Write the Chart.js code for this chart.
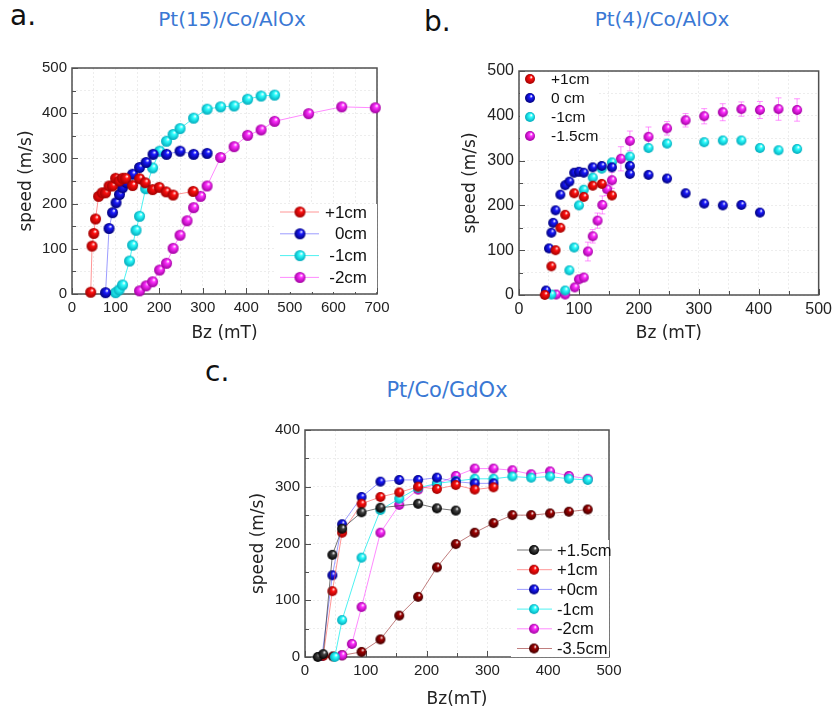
<!DOCTYPE html>
<html>
<head>
<meta charset="utf-8">
<script src="https://cdn.jsdelivr.net/npm/chart.js@4/dist/chart.umd.min.js"></script>
<style>
body{margin:0;width:837px;height:713px;background:#fff;position:relative;overflow:hidden;font-family:'DejaVu Sans',sans-serif}
canvas{position:absolute}
.lab{position:absolute;font-size:28px;line-height:1;color:#111}
.ttl{position:absolute;font-size:20px;line-height:1;color:#3a78d4;transform:translateX(-50%);white-space:nowrap}
</style>
</head>
<body>
<div class="lab" style="left:10px;top:2px">a.</div>
<div class="ttl" style="left:232px;top:9px">Pt(15)/Co/AlOx</div>
<div class="lab" style="left:424px;top:8px">b.</div>
<div class="ttl" style="left:662px;top:9px">Pt(4)/Co/AlOx</div>
<div class="lab" style="left:205px;top:358px">c.</div>
<div class="ttl" style="left:447px;top:380px;font-size:21px">Pt/Co/GdOx</div>

<canvas id="chartA" width="400" height="350" style="left:0;top:0"></canvas>
<canvas id="chartB" width="407" height="350" style="left:430px;top:0"></canvas>
<canvas id="chartC" width="437" height="363" style="left:200px;top:350px"></canvas>

<script>
// ---- panel a : Pt(15)/Co/AlOx ----
const aLabels = ['+1cm', '0cm', '-1cm', '-2cm'];
const aX_p1 = [43,46,50,54,61,69,77,85,93,100,108,116,123,139,155,168,185,200,216,232,278];
const aY_p1 = [4,106,134,166,216,224,224,239,239,256,250,256,256,240,255,246,231,236,226,219,227];
const aX_0 = [77,85,93,101,109,116,124,139,155,170,186,217,248,279,310];
const aY_0 = [3,145,180,202,220,235,246,265,280,291,309,309,316,309,311];
const aX_m1 = [100,108,116,132,139,147,155,169,185,201,217,232,248,279,310,341,372,403,434,465];
const aY_m1 = [3,9,20,73,108,141,172,233,279,316,338,353,366,389,409,414,416,431,438,440];
const aX_m2 = [155,170,185,201,217,232,248,264,279,295,310,341,372,403,434,465,543,619,696];
const aY_m2 = [7,18,27,53,68,101,130,162,191,216,239,302,326,351,363,382,399,414,412];

// ---- panel b : Pt(4)/Co/AlOx ----
const bLabels = ['+1cm', '0 cm', '-1cm', '-1.5cm'];
const bX_p1 = [43,54,61,69,77,92,108,123,138,155];
const bY_p1 = [0,64,100,150,179,227,219,244,248,222];
const bX_0 = [45,50,54,57,61,69,77,84,92,100,108,123,138,155,185,185,216,247,278,309,340,371,402];
const bY_0 = [10,104,139,161,189,224,245,253,273,275,273,285,288,285,288,270,268,260,227,204,200,201,184];
const bX_m1 = [54,77,84,92,100,108,123,138,155,185,216,247,309,340,371,402,433,464];
const bY_m1 = [1,10,55,106,200,235,262,282,296,309,328,338,341,345,345,328,323,326];
const bX_m15 = [62,77,93,100,108,115,123,131,139,147,155,170,185,216,247,278,309,340,371,402,433,464];
const bY_m15 = [1,1,17,35,39,97,131,166,201,236,256,304,344,353,372,390,399,408,415,413,415,413];
const bErr_m15 = [0,0,0,0,0,21,15,17,20,14,18,27,22,22,15,15,17,19,16,19,25,25];

// ---- panel c : Pt/Co/GdOx ----
const cLabels = ['+1.5cm', '+1cm', '+0cm', '-1cm', '-2cm', '-3.5cm'];
const cX_p15 = [21,30,45,61,93,124,186,217,248];
const cY_p15 = [0,5,180,226,255,263,270,262,258];
const cX_p1 = [30,45,61,93,124,155,186,217,248,279,310];
const cY_p1 = [2,116,219,270,282,290,300,296,303,295,299];
const cX_0 = [28,45,61,93,124,155,186,217,248,279,310];
const cY_0 = [2,144,234,282,309,312,312,316,309,306,306];
const cX_m1 = [49,61,93,124,155,186,217,248,279,310,341,372,403,434,465];
const cY_m1 = [0,65,175,259,279,298,306,310,314,314,318,316,318,314,312];
const cX_m2 = [61,77,93,124,155,186,217,248,279,310,341,372,403,434,465];
const cY_m2 = [3,23,88,219,268,295,305,319,332,332,329,322,327,319,314];
const cX_m35 = [46,61,93,124,155,186,217,248,279,310,341,372,403,434,465];
const cY_m35 = [1,3,9,31,73,106,158,199,219,236,250,250,253,256,260];

// shaded ball markers
function ball(c1, c2, r) {
  const s = 2 * r + 2;
  const cv = document.createElement('canvas');
  cv.width = cv.height = s;
  const g = cv.getContext('2d');
  const m = s / 2;
  const gr = g.createRadialGradient(m + r * 0.3, m - r * 0.4, r * 0.05, m, m, r);
  gr.addColorStop(0, '#ffffff');
  gr.addColorStop(0.3, c1);
  gr.addColorStop(1, c2);
  g.fillStyle = gr;
  g.beginPath();
  g.arc(m, m, r, 0, Math.PI * 2);
  g.fill();
  return cv;
}

const cols = {
  red: ['#ff1010', '#a00000', 'rgba(255,80,80,0.6)'],
  blue: ['#1a1aff', '#00007a', 'rgba(90,90,255,0.6)'],
  cyan: ['#30ffff', '#00aabb', 'rgba(0,235,235,0.7)'],
  mag: ['#ff30ff', '#a000a0', 'rgba(255,60,255,0.6)'],
  black: ['#444444', '#000000', 'rgba(60,60,60,0.7)'],
  dred: ['#a00000', '#400000', 'rgba(150,40,40,0.6)']
};

function ds(label, xs, ys, col, r, showLine, err) {
  return {
    label: label,
    data: xs.map((x, i) => ({x: x, y: ys[i]})),
    pointStyle: ball(cols[col][0], cols[col][1], r),
    pointRadius: r,
    borderColor: cols[col][2],
    backgroundColor: cols[col][0],
    borderWidth: 1,
    showLine: showLine,
    clip: false,
    errorBars: err
  };
}

// frame + inward tick marks
const framePlugin = {
  id: 'frame',
  beforeDatasetsDraw(chart) {
    const {ctx, chartArea: a, scales} = chart;
    ctx.save();
    ctx.strokeStyle = '#505050';
    ctx.lineWidth = 1.5;
    ctx.strokeRect(a.left, a.top, a.right - a.left, a.bottom - a.top);
    ctx.lineWidth = 1;
    ctx.beginPath();
    scales.x.ticks.forEach(t => {
      const px = Math.round(scales.x.getPixelForValue(t.value)) + 0.5;
      const len = t.value % 100 === 0 ? 6 : 4;
      ctx.moveTo(px, a.bottom);
      ctx.lineTo(px, a.bottom - len);
    });
    scales.y.ticks.forEach(t => {
      const py = Math.round(scales.y.getPixelForValue(t.value)) + 0.5;
      const len = t.value % 100 === 0 ? 6 : 4;
      ctx.moveTo(a.left, py);
      ctx.lineTo(a.left + len, py);
    });
    ctx.stroke();
    ctx.restore();
  }
};

const errPlugin = {
  id: 'errbars',
  beforeDatasetsDraw(chart) {
    const {ctx, scales} = chart;
    chart.data.datasets.forEach(d => {
      if (!d.errorBars) return;
      ctx.save();
      ctx.strokeStyle = 'rgba(255,60,255,0.55)';
      ctx.lineWidth = 1;
      ctx.beginPath();
      d.data.forEach((p, i) => {
        const e = d.errorBars[i];
        if (!e) return;
        const px = scales.x.getPixelForValue(p.x);
        const y1 = scales.y.getPixelForValue(p.y + e);
        const y2 = scales.y.getPixelForValue(p.y - e);
        ctx.moveTo(px, y1); ctx.lineTo(px, y2);
        ctx.moveTo(px - 3, y1); ctx.lineTo(px + 3, y1);
        ctx.moveTo(px - 3, y2); ctx.lineTo(px + 3, y2);
      });
      ctx.stroke();
      ctx.restore();
    });
  }
};

// legend drawn inside plot: offsets relative to chart area
function legendPlugin(o) {
  return {
    id: 'ballLegend',
    afterDatasetsDraw(chart) {
      const {ctx, chartArea: a} = chart;
      ctx.save();
      ctx.fillStyle = '#fff';
      ctx.fillRect(a.left + o.box[0], a.top + o.box[1], o.box[2], o.box[3]);
      ctx.font = o.font + 'px "Liberation Sans", Arial, sans-serif';
      ctx.textBaseline = 'middle';
      ctx.textAlign = o.align;
      chart.data.datasets.forEach((d, i) => {
        const y = a.top + o.y0 + i * o.dy;
        if (o.line) {
          ctx.strokeStyle = d.borderColor;
          ctx.lineWidth = 1;
          ctx.beginPath();
          ctx.moveTo(a.left + o.l1, y);
          ctx.lineTo(a.left + o.l2, y);
          ctx.stroke();
        }
        const img = d.pointStyle;
        ctx.drawImage(img, a.left + o.bx - img.width / 2, y - img.height / 2);
        ctx.fillStyle = '#111';
        ctx.fillText(d.label, a.left + o.tx, y + 1);
      });
      ctx.restore();
    }
  };
}

function panel(id, c) {
  const tickFont = {family: '"Liberation Sans", Arial, sans-serif', size: c.tf};
  const titleFont = {family: '"DejaVu Sans", sans-serif', size: 17};
  return new Chart(document.getElementById(id), {
    type: 'scatter',
    data: {datasets: c.datasets},
    options: {
      responsive: false,
      animation: false,
      devicePixelRatio: 1,
      layout: {padding: {left: 0, top: c.top, right: c.right, bottom: 0}},
      plugins: {legend: {display: false}, tooltip: {enabled: false}},
      scales: {
        x: {
          type: 'linear', min: 0, max: c.xmax,
          afterFit: s => { s.height = c.xh; },
          ticks: {stepSize: 50, autoSkip: false, maxRotation: 0, padding: 5, font: tickFont, color: '#222',
                  callback: v => (v % 100 === 0 ? v : '')},
          grid: {color: 'rgba(0,0,0,0.07)', drawTicks: false},
          border: {display: false, dash: [2, 2]},
          title: {display: true, text: c.xt, font: titleFont, color: '#222', padding: {top: 0, bottom: c.xtp}}
        },
        y: {
          type: 'linear', min: 0, max: c.ymax,
          afterFit: s => { s.width = c.yw; },
          ticks: {stepSize: 50, autoSkip: false, padding: 5, font: tickFont, color: '#222',
                  callback: v => (v % 100 === 0 ? v : '')},
          grid: {color: 'rgba(0,0,0,0.07)', drawTicks: false},
          border: {display: false, dash: [2, 2]},
          title: {display: true, text: 'speed (m/s)', font: titleFont, color: '#222', padding: {top: c.ytp, bottom: 0}}
        }
      }
    },
    plugins: [framePlugin, errPlugin, legendPlugin(c.legend)]
  });
}

panel('chartA', {
  top: 68, right: 23, yw: 72, xh: 56, xmax: 700, ymax: 500, tf: 15,
  xt: 'Bz (mT)', xtp: 6, ytp: 16,
  datasets: [
    ds(aLabels[0], aX_p1, aY_p1, 'red', 5.5, true),
    ds(aLabels[1], aX_0, aY_0, 'blue', 5.5, true),
    ds(aLabels[2], aX_m1, aY_m1, 'cyan', 5.5, true),
    ds(aLabels[3], aX_m2, aY_m2, 'mag', 5.5, true)
  ],
  legend: {box: [202, 136, 103, 88], y0: 144, dy: 21.8, line: true, l1: 208, l2: 247, bx: 228, tx: 295, align: 'right', font: 17}
});

panel('chartB', {
  top: 71, right: 13, yw: 89, xh: 55, xmax: 500, ymax: 500, tf: 16,
  xt: 'Bz (mT)', xtp: 6, ytp: 30,
  datasets: [
    ds(bLabels[0], bX_p1, bY_p1, 'red', 5, false),
    ds(bLabels[1], bX_0, bY_0, 'blue', 5, false),
    ds(bLabels[2], bX_m1, bY_m1, 'cyan', 5, false),
    ds(bLabels[3], bX_m15, bY_m15, 'mag', 5, false, bErr_m15)
  ],
  legend: {box: [1, 1, 78, 80], y0: 8, dy: 19, line: false, bx: 11, tx: 32, align: 'left', font: 15.5}
});

panel('chartC', {
  top: 80, right: 28, yw: 105, xh: 56, xmax: 500, ymax: 400, tf: 15,
  xt: 'Bz(mT)', xtp: 3, ytp: 48,
  datasets: [
    ds(cLabels[0], cX_p15, cY_p15, 'black', 5, true),
    ds(cLabels[1], cX_p1, cY_p1, 'red', 5, true),
    ds(cLabels[2], cX_0, cY_0, 'blue', 5, true),
    ds(cLabels[3], cX_m1, cY_m1, 'cyan', 5, true),
    ds(cLabels[4], cX_m2, cY_m2, 'mag', 5, true),
    ds(cLabels[5], cX_m35, cY_m35, 'dred', 5, true)
  ],
  legend: {box: [206, 110, 98, 117], y0: 120, dy: 19.7, line: true, l1: 212, l2: 247, bx: 229, tx: 252, align: 'left', font: 16.5}
});
</script>
</body>
</html>
